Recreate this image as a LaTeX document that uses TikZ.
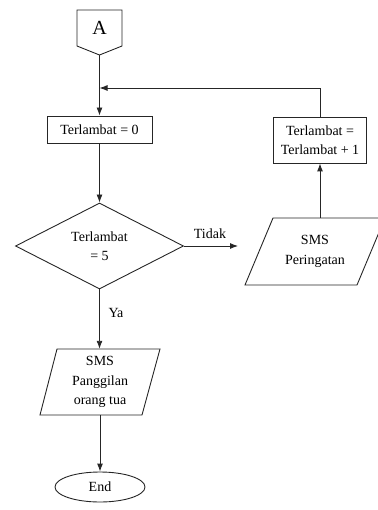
\documentclass[tikz,border=0pt]{standalone}
\usepackage{fontspec}
\setmainfont{Liberation Serif}
\usetikzlibrary{shapes.geometric,arrows.meta,calc}
\begin{document}
\begin{tikzpicture}[x=1pt,y=-1pt,
  line/.style={draw=black!85, line width=0.9pt},
  arr/.style={line, -{Latex[length=8pt,width=6pt]}},
  txt/.style={font=\fontsize{14}{19.5}\selectfont, align=center, inner sep=0pt},
  procbox/.style={txt, line, rectangle},
  decision/.style={txt, line, diamond, aspect=1.95},
  terminal/.style={txt, line, ellipse},
  lbl/.style={font=\fontsize{14}{17}\selectfont, inner sep=0pt}
]
\useasboundingbox (0,0) rectangle (377,510);

% off-page connector A
\draw[line] (77,10) -- (122,10) -- (122,46) -- (99.5,55) -- (77,46) -- cycle;
\node[inner sep=0pt, font=\fontsize{20}{22}\selectfont] (A) at (99.5,28) {A};
\coordinate (Abot) at (99.5,55);

% process boxes
\node[procbox, minimum width=105pt, minimum height=27pt] (r1) at (99.5,129.5) {Terlambat = 0};
\node[procbox, minimum width=93pt, minimum height=46pt] (r2) at (320,140) {Terlambat =\\Terlambat + 1};

% decision
\node[decision, minimum width=168pt, minimum height=86pt] (d) at (99.5,246) {Terlambat\\= 5};

% SMS Peringatan (parallelogram)
\draw[line] (273,218) -- (385,218) -- (357,285) -- (245,285) -- cycle;
\node[txt, minimum width=80pt, minimum height=67pt] (p2) at (315,251.5) {SMS\\Peringatan};

% SMS Panggilan orang tua (parallelogram)
\draw[line] (57,349) -- (160,349) -- (142,415) -- (40,415) -- cycle;
\node[txt, minimum width=80pt, minimum height=66pt] (p1) at (100,382) {SMS\\Panggilan\\orang tua};

% End
\node[terminal, minimum width=90pt, minimum height=30pt] (e) at (100,487) {End};

\coordinate (jn) at (99.5,88);

% connectors
\draw[arr] (Abot) -- (r1.north);
\draw[arr] (r1.south) -- (d.north);
\draw[arr] (d.east) -- (238,246) coordinate (tip);
\node[lbl] (tidak) at (210,234) {Tidak};
\draw[arr] (d.south) -- (d.south |- p1.north);
\node[lbl] (ya) at (116,313) {Ya};
\draw[arr] (p1.south) -- (e.north);
\draw[arr] (p2.north -| r2.south) -- (r2.south);
\draw[arr] (r2.north) |- (jn);
\end{tikzpicture}
\end{document}
